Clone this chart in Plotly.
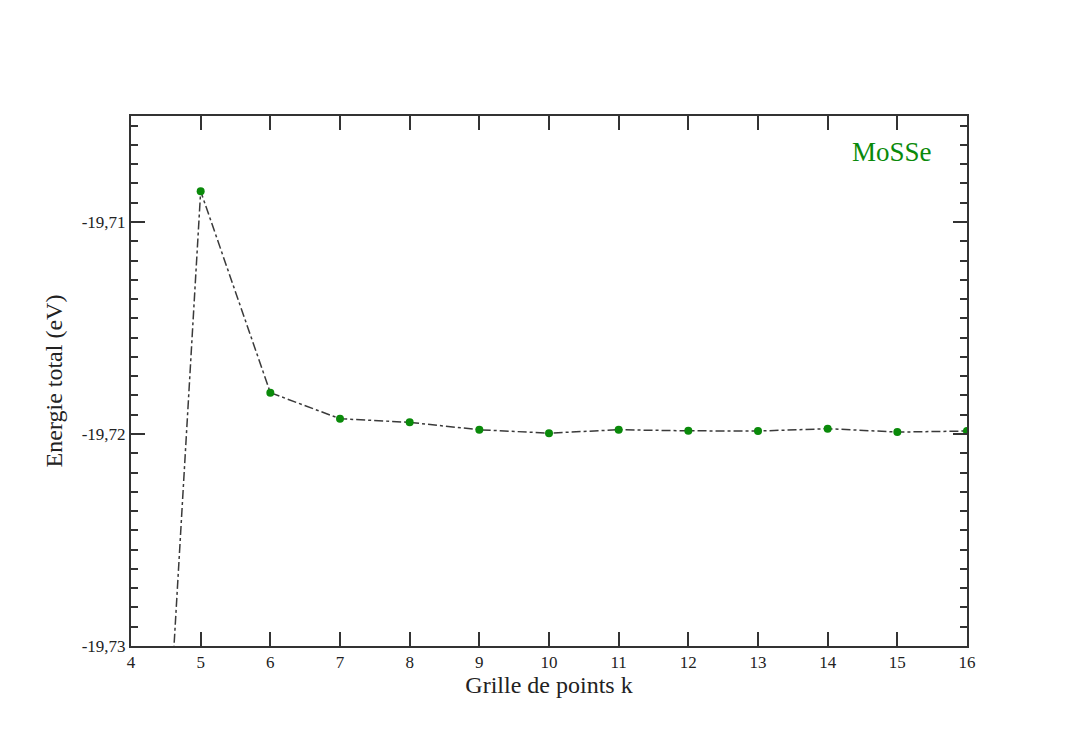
import plotly.graph_objects as go

# k-point grid convergence of the total energy for MoSSe
k_grid = [4, 5, 6, 7, 8, 9, 10, 11, 12, 13, 14, 15, 16]
energy_ev = [-19.7646, -19.70855, -19.71805, -19.71928, -19.71945, -19.7198,
             -19.71996, -19.7198, -19.71985, -19.71986, -19.71975, -19.71991,
             -19.71986]

x_ticks = [4, 5, 6, 7, 8, 9, 10, 11, 12, 13, 14, 15, 16]
y_ticks = [-19.73, -19.72, -19.71]
y_tick_text = ["-19,73", "-19,72", "-19,71"]

serif = "Liberation Serif, Times New Roman, serif"
axis_col = "#333333"
text_col = "#222222"
green = "#0a8a0a"

fig = go.Figure()
fig.add_trace(go.Scatter(
    x=k_grid, y=energy_ev, mode="lines+markers",
    line=dict(color="#3a3a3a", width=1.5, dash="dashdot"),
    marker=dict(color=green, size=8),
    showlegend=False,
))

fig.add_annotation(
    text="MoSSe", x=0.9107, y=0.932, xref="paper", yref="paper",
    xanchor="center", yanchor="middle",
    showarrow=False, font=dict(family=serif, size=27, color=green),
)

fig.update_xaxes(
    range=[4, 16], tickvals=x_ticks, ticks="inside", ticklen=14, tickwidth=1.5,
    tickcolor=axis_col, showline=True, linecolor=axis_col, linewidth=2,
    mirror="allticks", showgrid=False, zeroline=False,
    tickfont=dict(family=serif, size=17, color=text_col),
    title=dict(text="Grille de points k", font=dict(family=serif, size=24, color=text_col),
               standoff=0),
)
fig.update_yaxes(
    range=[-19.73, -19.705], tickvals=y_ticks, ticktext=y_tick_text,
    ticks="inside", ticklen=14, tickwidth=1.5, tickcolor=axis_col,
    showline=True, linecolor=axis_col, linewidth=2, mirror="allticks",
    showgrid=False, zeroline=False,
    minor=dict(tick0=-19.73, dtick=0.01 / 11, ticks="inside", ticklen=7,
               tickwidth=1.5, tickcolor=axis_col, showgrid=False),
    tickfont=dict(family=serif, size=17, color=text_col),
    title=dict(text="Energie total (eV)", font=dict(family=serif, size=24, color=text_col),
               standoff=12),
)

fig.update_layout(
    width=1073, height=753,
    margin=dict(l=131, r=106, t=116, b=107),
    paper_bgcolor="white", plot_bgcolor="white",
)

fig.write_html("out.html")
